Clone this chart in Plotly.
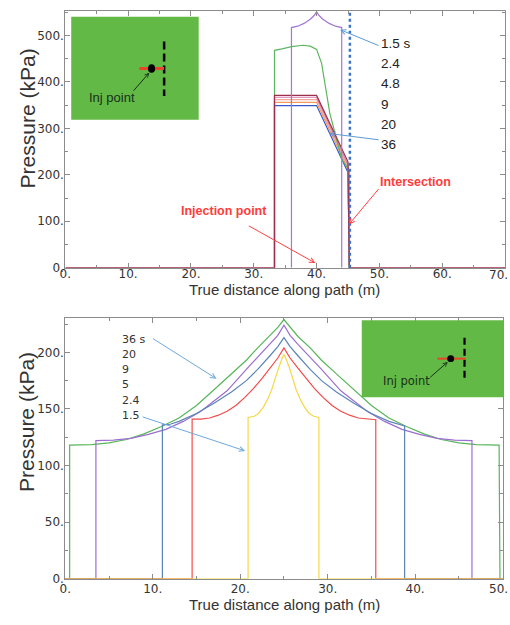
import plotly.graph_objects as go

W, H = 510, 625

# ---------------- top panel data ----------------
TOP_X_TICKS = [0, 10, 20, 30, 40, 50, 60, 70]
TOP_X_LABELS = ["0.", "10.", "20.", "30.", "40.", "50.", "60.", "70."]
TOP_Y_TICKS = [0, 100, 200, 300, 400, 500]
TOP_Y_LABELS = ["0.", "100.", "200.", "300.", "400.", "500."]

# 1.5 s (purple)
TOP_T15_X = [36.0, 36.0, 37.0, 38.0, 39.0, 39.6, 40.0, 40.4, 41.0, 42.0, 43.0, 44.0, 44.0]
TOP_T15_Y = [0, 517, 520, 526, 535, 543, 551, 543, 535, 526, 520, 517, 0]
# 2.4 s (green)
TOP_T24_X = [33.3, 33.3, 34.5, 36.0, 37.9, 39.0, 40.0, 40.8, 42.1, 43.0, 44.0, 45.0, 45.2, 45.2]
TOP_T24_Y = [0, 468, 471, 476, 479, 477, 470, 440, 333, 283, 234, 213, 205, 0]
# later times: plateau then linear drop (x breakpoints and levels)
LATE_X = [33.3, 33.3, 40.0, 45.0, 45.2]
LATE_COLORS = ["#3558C8", "#F39A5B", "#F2A7A0", "#D67AAA"]
LATE_PLATEAU = [349, 356, 362, 367]
LATE_END = [205, 212, 217, 222]
# top-most series, which also runs along the baseline
BASE_X = [0, 33.3, 33.3, 40.0, 45.0, 45.2, 70]
BASE_Y = [0, 0, 371, 371, 228, 0, 0]
INTERSECTION_X = 45.3
TOP_LABELS = ["1.5 s", "2.4", "4.8", "9", "20", "36"]

# ---------------- bottom panel data ----------------
BOT_X_TICKS = [0, 10, 20, 30, 40, 50]
BOT_X_LABELS = ["0.", "10.", "20.", "30.", "40.", "50."]
BOT_Y_TICKS = [0, 50, 100, 150, 200]
BOT_Y_LABELS = ["0.", "50.", "100.", "150.", "200."]

G36_X = [0, 0.5, 0.5, 3.0, 5.0, 7.0, 9.0, 11.0, 13.0, 15.0, 17.0, 19.0, 20.7, 22.0, 23.4, 24.3, 25.0,
         25.7, 26.6, 28.0, 29.3, 31.0, 33.0, 35.0, 37.0, 39.0, 41.0, 43.0, 45.0, 47.0, 49.6, 49.7, 50]
G36_Y = [0, 0, 118, 118.5, 120, 123, 128, 134.5, 142, 153, 167, 181, 193, 204, 215, 222, 229,
         222, 214, 204, 193, 181, 167, 153, 142, 134.5, 128, 123, 120, 118.5, 118, 0, 0]
P20_X = [0, 3.5, 3.5, 5.5, 7.5, 9.5, 11.5, 13.5, 15.5, 17.0, 18.5, 20.7, 22.0, 23.4, 24.3, 25.0,
         25.7, 26.6, 28.0, 29.3, 31.5, 33.0, 34.5, 36.5, 38.5, 40.5, 42.5, 44.5, 46.5, 46.5, 50]
P20_Y = [0, 0, 122, 122.5, 124, 127.5, 132, 139, 148, 157, 166, 185, 196, 207, 215, 224,
         215, 207, 196, 185, 166, 157, 148, 139, 132, 127.5, 124, 122.5, 122, 0, 0]
B9_X = [0, 11.1, 11.1, 12.0, 13.0, 15.0, 17.0, 19.0, 20.7, 22.0, 23.4, 24.3, 25.0,
        25.7, 26.6, 28.0, 29.3, 31.0, 33.0, 35.0, 37.0, 38.0, 38.8, 38.8, 50]
B9_Y = [0, 0, 136, 136.5, 139, 146, 155, 165, 175, 185, 197, 205, 213,
        205, 197, 185, 175, 165, 155, 146, 139, 136.5, 135, 0, 0]
R5_X = [0, 14.5, 14.5, 15.5, 16.5, 17.5, 18.5, 19.5, 20.5, 21.5, 22.5, 23.4, 24.3, 25.0,
        25.7, 26.6, 27.5, 28.5, 29.5, 30.5, 31.5, 32.5, 33.5, 34.5, 35.5, 35.5, 50]
R5_Y = [0, 0, 141, 141, 142, 144.5, 148, 153, 160, 168, 177, 186, 195, 204,
        195, 186, 177, 168, 160, 153, 148, 144.5, 142, 141, 140.5, 0, 0]
Y15_X = [0, 20.9, 20.9, 21.6, 22.1, 22.6, 23.1, 23.6, 24.0, 24.4, 24.8, 25.0,
         25.2, 25.6, 26.0, 26.4, 26.9, 27.4, 27.9, 28.4, 29.0, 29.0, 50]
Y15_Y = [0, 0, 142.5, 143.5, 146, 151, 158, 167, 177, 187, 195, 198,
         195, 187, 177, 167, 158, 151, 146, 143.5, 142.5, 0, 0]
BOT_LABELS = ["36 s", "20", "9", "5", "2.4", "1.5"]

SANS = "Liberation Sans, Arial, sans-serif"
TICKFONT = dict(family="DejaVu Sans", size=12, color="#333333")

fig = go.Figure()


def line(x, y, color, xa="x", ya="y", width=1.2, dash=None):
    fig.add_trace(go.Scatter(x=x, y=y, mode="lines", xaxis=xa, yaxis=ya,
                             line=dict(color=color, width=width, dash=dash),
                             showlegend=False, hoverinfo="skip"))


# top panel traces
for c, p, e in zip(LATE_COLORS, LATE_PLATEAU, LATE_END):
    line(LATE_X, [0, p, p, e, 0], c)
line(TOP_T24_X, TOP_T24_Y, "#5DB65F")
line(BASE_X, BASE_Y, "#9C2F4C")
line(TOP_T15_X, TOP_T15_Y, "#A276D6")
line([INTERSECTION_X, INTERSECTION_X], [0, 553], "#3B73C8", width=2.5, dash="dot")

# bottom panel traces
line(G36_X, G36_Y, "#58B55A", "x2", "y2")
line(P20_X, P20_Y, "#9B6FCF", "x2", "y2")
line(B9_X, B9_Y, "#5B84B8", "x2", "y2")
line(R5_X, R5_Y, "#F24A4A", "x2", "y2")
line(Y15_X, Y15_Y, "#F5D84A", "x2", "y2")


def axis(domain, rng, tickvals, ticktext, minor_dt, anchor, standoff=0):
    return dict(domain=domain, range=rng, anchor=anchor, tickmode="array",
                tickvals=tickvals, ticktext=ticktext, showline=True, linecolor="#8c8c8c",
                linewidth=1, mirror="allticks", ticks="inside", ticklen=5, tickcolor="#8c8c8c",
                showgrid=False, zeroline=False, tickfont=TICKFONT, ticklabelstandoff=standoff,
                minor=dict(tick0=0, dtick=minor_dt, ticks="inside", ticklen=3, tickcolor="#8c8c8c"))


# the last x label of each panel sits at the right edge; it is drawn as an annotation
fig.update_layout(
    width=W, height=H, margin=dict(l=0, r=0, t=0, b=0),
    paper_bgcolor="white", plot_bgcolor="white", showlegend=False,
    xaxis=axis([60 / W, 505 / W], [0, 70], TOP_X_TICKS, TOP_X_LABELS[:-1] + [""], 5, "y", -5),
    yaxis=axis([1 - 270.7 / H, 1 - 11 / H], [0, 553], TOP_Y_TICKS, TOP_Y_LABELS, 50, "x", -2),
    xaxis2=axis([60 / W, 502.5 / W], [0, 50], BOT_X_TICKS, BOT_X_LABELS[:-1] + [""], 5, "y2", -1),
    yaxis2=axis([1 - 585.3 / H, 1 - 322 / H], [0, 230], BOT_Y_TICKS, BOT_Y_LABELS, 25, "x2", -2),
)


def P(xp, yp):
    return xp / W, 1 - yp / H


def text(s, xp, yp, size, color="#222222", family=SANS, anchor="center", angle=0, bold=False):
    x, y = P(xp, yp)
    fig.add_annotation(x=x, y=y, xref="paper", yref="paper", text=("<b>%s</b>" % s) if bold else s,
                       showarrow=False, xanchor=anchor, yanchor="middle", textangle=angle,
                       borderpad=0, font=dict(family=family, size=size, color=color))


def arrow(head, tail, color, width=1.0, style=5, size=1.0):
    x, y = P(*head)
    fig.add_annotation(x=x, y=y, xref="paper", yref="paper", text="", showarrow=True,
                       ax=tail[0] - head[0], ay=tail[1] - head[1], arrowhead=style,
                       arrowsize=size, arrowwidth=width, arrowcolor=color, standoff=0)


# right-edge tick labels
text(TOP_X_LABELS[-1], 509, 278, 12, "#333333", family="DejaVu Sans", anchor="right")
text(BOT_X_LABELS[-1], 509, 596, 12, "#333333", family="DejaVu Sans", anchor="right")

# axis titles
text("Pressure (kPa)", 22, 120, 21, "#333333", angle=-90)
text("True distance along path (m)", 282, 293, 15, "#333333")
text("Pressure (kPa)", 20, 427, 21, "#333333", angle=-90)
text("True distance along path (m)", 282, 611, 15, "#333333")

# top series labels
for i, s in enumerate(TOP_LABELS):
    text(s, 378, 44 + i * 20.4, 13.5, "#222222", anchor="left")
arrow((338, 30), (378, 46.5), "#5B9BD5")
arrow((327, 135), (378, 141.5), "#5B9BD5")

text("Injection point", 221, 213, 12.5, "#FF3B3B", bold=True)
arrow((313, 266), (245, 228), "#FF4040")
text("Intersection", 414, 184, 12.5, "#FF3B3B", bold=True)
arrow((347, 227), (378, 190), "#FF4040")

# bottom series labels
for i, s in enumerate(BOT_LABELS):
    text(s, 116, 343 + i * 15.4, 11, "#333333", family="DejaVu Sans", anchor="left")
arrow((213, 383), (148, 342), "#6FA8DC")
arrow((242, 456), (138, 421.5), "#6FA8DC")

# insets
shapes = []
def rect(x0, y0, x1, y1, fill):
    a, b = P(x0, y1); c, d = P(x1, y0)
    shapes.append(dict(type="rect", xref="paper", yref="paper", x0=a, y0=b, x1=c, y1=d,
                       fillcolor=fill, line=dict(width=0), layer="above"))

def seg(x0, y0, x1, y1, color, width, dash=None):
    a, b = P(x0, y0); c, d = P(x1, y1)
    shapes.append(dict(type="line", xref="paper", yref="paper", x0=a, y0=b, x1=c, y1=d,
                       line=dict(color=color, width=width, dash=dash), layer="above"))

def dot(xc, yc, rx, ry):
    a, b = P(xc - rx, yc + ry); c, d = P(xc + rx, yc - ry)
    shapes.append(dict(type="circle", xref="paper", yref="paper", x0=a, y0=b, x1=c, y1=d,
                       fillcolor="black", line=dict(width=0), layer="above"))

INSET_GREEN = "#63B946"
rect(66, 17, 195, 121, INSET_GREEN)
seg(160, 42, 160, 97, "black", 2.5, "8px,4px")
seg(135, 69.3, 160, 69.3, "#E8452A", 3)
dot(147.3, 69.3, 3.6, 4.4)

rect(360, 324, 503.5, 401.7, INSET_GREEN)
seg(464, 341.7, 464, 384, "black", 2.2, "7px,4px")
seg(436.7, 362.7, 465, 362.7, "#E8452A", 2)
dot(450, 362.7, 3.5, 3.5)
fig.update_layout(shapes=shapes)

text("Inj point", 107, 99, 13, "#17301A")
arrow((145, 73.5), (128, 93), "#17301A", 1, 5, 0.8)
text("Inj point", 405, 385, 11.5, "#17301A", family="DejaVu Sans")
arrow((447, 366), (428, 382.7), "#17301A", 1, 5, 0.8)

fig.write_html("out.html")
